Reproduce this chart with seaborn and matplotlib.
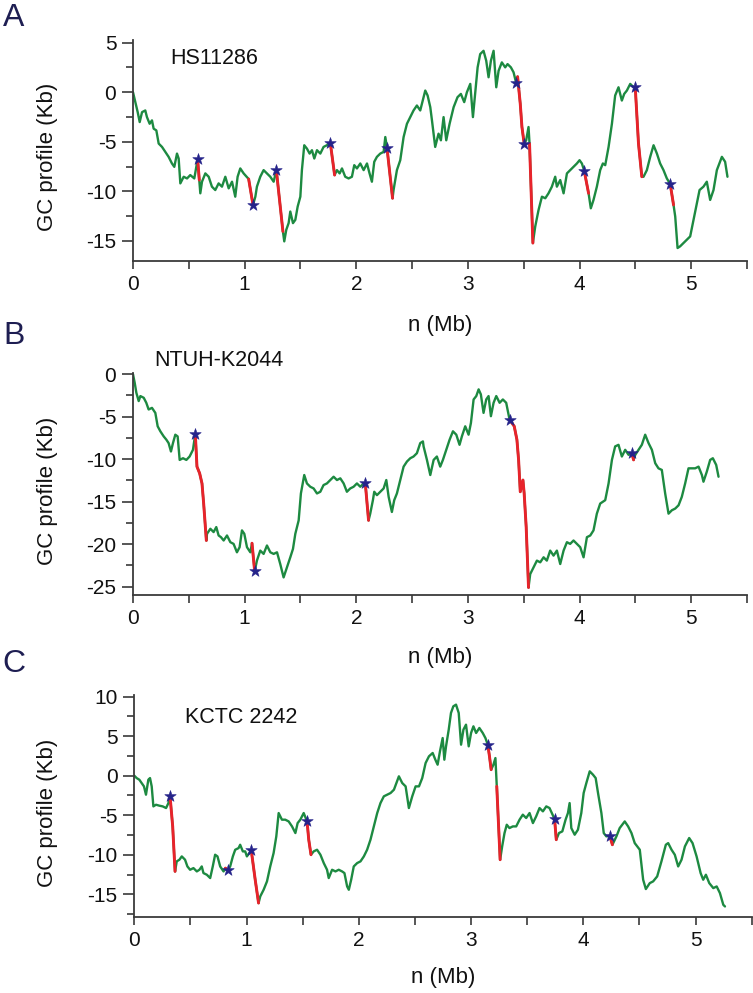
import numpy as np
import pandas as pd
import matplotlib
matplotlib.use("Agg")
import matplotlib.pyplot as plt
import seaborn as sns
from matplotlib.ticker import MultipleLocator

# ---------------- data ----------------
titles = ["HS11286", "NTUH-K2044", "KCTC 2242"]
letters = ["A", "B", "C"]
x_label = "n (Mb)"
y_label = "GC profile (Kb)"
x_ticks = [0, 1, 2, 3, 4, 5]
a_yticks = [-15, -10, -5, 0, 5]
b_yticks = [-25, -20, -15, -10, -5, 0]
c_yticks = [-15, -10, -5, 0, 5, 10]

a_x = [0.000,0.021,0.042,0.060,0.081,0.110,0.125,0.149,0.170,0.185,0.209,0.230,0.260,0.290,0.319,0.349,0.370,0.394,0.409,0.424,
       0.454,0.484,0.513,0.549,0.579,0.594,0.603,0.618,0.648,0.678,0.707,0.737,0.767,0.797,0.827,0.857,0.887,0.916,0.937,0.961,
       0.991,1.036,1.075,1.096,1.110,1.140,1.170,1.200,1.230,1.260,1.284,1.343,1.355,1.373,1.394,1.409,1.433,1.454,1.475,1.499,
       1.513,1.534,1.558,1.582,1.603,1.624,1.648,1.678,1.707,1.737,1.767,1.806,1.827,1.851,1.872,1.901,1.931,1.961,1.982,2.006,
       2.036,2.066,2.096,2.119,2.140,2.161,2.185,2.215,2.245,2.260,2.275,2.325,2.334,2.364,2.394,2.424,2.454,2.484,2.513,2.543,
       2.573,2.603,2.618,2.639,2.663,2.678,2.707,2.737,2.758,2.782,2.806,2.836,2.872,2.907,2.937,2.967,2.991,3.021,3.045,3.066,
       3.087,3.110,3.140,3.164,3.185,3.206,3.230,3.254,3.275,3.304,3.334,3.355,3.385,3.409,3.433,3.445,3.469,3.484,3.504,3.522,
       3.543,3.552,3.582,3.603,3.633,3.663,3.693,3.722,3.752,3.782,3.797,3.827,3.857,3.887,3.916,3.946,3.976,4.000,4.021,4.042,
       4.081,4.101,4.125,4.155,4.185,4.209,4.230,4.260,4.290,4.319,4.349,4.379,4.400,4.424,4.454,4.484,4.499,4.528,4.558,4.573,
       4.603,4.633,4.663,4.693,4.722,4.752,4.782,4.812,4.842,4.857,4.878,4.901,4.931,4.961,4.991,5.021,5.051,5.075,5.110,5.140,
       5.170,5.200,5.230,5.275,5.304,5.325]
a_y = [0.00,-1.00,-2.01,-3.01,-2.01,-1.84,-2.51,-3.18,-2.84,-3.68,-3.85,-5.18,-5.52,-6.02,-6.52,-7.19,-7.53,-6.19,-6.69,-9.20,
       -8.53,-8.70,-8.36,-8.70,-6.76,-8.86,-10.20,-9.03,-8.19,-8.53,-9.53,-9.87,-9.20,-9.53,-8.53,-9.70,-9.03,-10.54,-8.53,-7.69,
       -8.19,-8.76,-11.37,-10.54,-9.53,-8.53,-7.86,-8.19,-8.53,-9.03,-7.86,-14.05,-15.05,-13.88,-13.21,-12.04,-13.21,-12.88,-11.54,-10.54,
       -7.86,-5.35,-5.69,-6.19,-5.85,-6.69,-5.85,-6.19,-5.52,-5.35,-5.08,-8.36,-7.86,-8.19,-7.69,-8.53,-8.70,-8.53,-7.36,-7.69,
       -7.19,-7.86,-7.19,-8.19,-9.03,-7.02,-6.52,-6.19,-6.02,-4.52,-5.59,-10.70,-9.87,-7.86,-6.86,-4.52,-3.18,-2.51,-1.84,-1.34,
       -1.84,-0.50,0.17,-0.33,-1.51,-2.84,-5.52,-4.18,-4.85,-2.51,-4.85,-3.18,-1.51,-0.50,-0.17,-1.00,0.00,0.84,-2.51,0.00,
       2.51,3.85,4.18,3.18,1.51,3.18,4.18,0.50,2.17,3.01,2.51,2.84,2.51,2.01,0.90,1.57,-1.17,-3.51,-5.18,-4.85,
       -3.51,-5.18,-15.22,-13.55,-11.87,-10.54,-10.70,-10.20,-9.53,-8.53,-9.53,-8.86,-10.20,-8.19,-7.86,-7.53,-7.19,-6.86,-7.19,-7.93,
       -10.20,-11.71,-10.87,-9.53,-7.86,-7.19,-7.36,-5.52,-3.18,-0.33,0.50,-0.84,-0.17,0.17,0.84,0.50,0.50,-5.18,-8.53,-8.53,
       -7.86,-6.52,-5.35,-6.19,-7.19,-7.86,-8.70,-9.26,-11.37,-12.54,-15.72,-15.55,-15.22,-14.88,-14.55,-12.88,-11.20,-9.87,-9.53,-9.03,
       -10.87,-9.87,-7.86,-6.52,-7.02,-8.53]
a_red = [(0.579, 0.594), (1.036, 1.075), (1.284, 1.343), (1.767, 1.806), (2.275, 2.325),
         (3.445, 3.504), (3.552, 3.582), (4.042, 4.081), (4.499, 4.558), (4.812, 4.842)]
a_star_x = [0.579, 1.075, 1.284, 1.767, 2.275, 3.433, 3.504, 4.042, 4.499, 4.812]
a_star_y = [-6.76, -11.37, -7.86, -5.08, -5.59, 0.90, -5.18, -7.93, 0.50, -9.26]

b_x = [0.000,0.015,0.030,0.051,0.066,0.096,0.119,0.140,0.170,0.200,0.221,0.245,0.275,0.299,0.319,0.340,0.358,0.379,0.400,0.418,
       0.448,0.478,0.507,0.537,0.558,0.573,0.597,0.618,0.633,0.657,0.663,0.693,0.722,0.746,0.767,0.788,0.812,0.842,0.872,0.901,
       0.931,0.955,0.976,0.997,1.021,1.051,1.066,1.090,1.110,1.140,1.170,1.200,1.230,1.260,1.290,1.319,1.349,1.379,1.409,1.433,
       1.454,1.484,1.504,1.534,1.558,1.588,1.618,1.648,1.678,1.707,1.737,1.767,1.797,1.827,1.857,1.887,1.916,1.946,1.976,2.006,
       2.036,2.066,2.081,2.110,2.125,2.149,2.161,2.185,2.215,2.245,2.269,2.290,2.319,2.340,2.364,2.394,2.424,2.454,2.484,2.513,
       2.543,2.573,2.597,2.603,2.633,2.663,2.693,2.722,2.752,2.776,2.806,2.836,2.866,2.896,2.925,2.946,2.976,3.006,3.027,3.051,
       3.075,3.096,3.116,3.140,3.164,3.185,3.206,3.230,3.254,3.284,3.313,3.343,3.364,3.373,3.415,3.439,3.454,3.469,3.493,3.504,
       3.522,3.543,3.558,3.588,3.618,3.648,3.678,3.707,3.737,3.767,3.797,3.827,3.857,3.887,3.916,3.946,3.976,4.006,4.036,4.066,
       4.096,4.125,4.155,4.185,4.230,4.260,4.290,4.319,4.349,4.379,4.409,4.439,4.469,4.484,4.499,4.528,4.558,4.588,4.618,4.648,
       4.678,4.707,4.737,4.767,4.797,4.827,4.857,4.887,4.916,4.946,4.976,5.006,5.036,5.066,5.096,5.110,5.140,5.170,5.194,5.224,
       5.245]
b_y = [0.00,-0.99,-2.18,-3.16,-2.57,-2.77,-3.36,-4.15,-3.96,-4.55,-6.13,-6.72,-7.32,-7.71,-8.11,-9.10,-8.11,-7.12,-7.32,-10.09,
       -9.89,-10.09,-9.69,-8.90,-7.00,-10.88,-11.67,-12.86,-15.23,-19.58,-18.79,-18.20,-18.59,-18.00,-18.99,-19.19,-19.58,-18.99,-19.78,-19.98,
       -20.97,-20.37,-18.39,-18.79,-20.37,-20.97,-19.90,-23.22,-21.95,-20.77,-21.16,-20.17,-20.97,-21.16,-20.97,-22.35,-23.93,-22.75,-21.56,-20.57,
       -18.79,-17.21,-14.04,-11.87,-12.86,-13.25,-13.45,-14.04,-13.84,-13.05,-12.86,-12.46,-12.07,-12.46,-12.26,-12.86,-13.84,-13.45,-13.25,-12.86,
       -13.25,-12.86,-12.86,-17.21,-16.42,-14.83,-13.84,-14.24,-13.84,-13.45,-12.46,-14.44,-16.22,-14.83,-14.04,-12.46,-10.88,-10.28,-9.89,-9.69,
       -9.30,-8.11,-7.91,-8.50,-10.09,-11.87,-10.09,-9.69,-10.88,-10.09,-8.90,-7.71,-6.72,-7.12,-8.31,-7.32,-6.13,-7.12,-5.74,-2.97,
       -2.57,-1.78,-2.37,-4.55,-2.97,-2.57,-4.94,-3.36,-2.57,-3.36,-2.97,-3.36,-4.75,-5.34,-6.13,-7.71,-10.09,-13.84,-12.46,-14.04,
       -18.00,-25.12,-23.54,-22.75,-21.95,-22.15,-21.56,-21.95,-20.77,-21.36,-20.77,-22.35,-20.77,-19.78,-19.98,-19.58,-19.98,-20.37,-21.56,-19.19,
       -18.99,-18.39,-16.42,-15.23,-14.83,-12.86,-10.09,-8.50,-8.31,-9.69,-8.90,-9.49,-9.30,-10.09,-9.49,-8.90,-8.31,-7.12,-8.11,-8.90,
       -10.48,-11.08,-11.27,-14.04,-16.42,-16.02,-15.82,-15.43,-14.44,-12.86,-11.08,-11.08,-11.08,-10.88,-11.87,-12.66,-11.47,-10.09,-9.89,-10.68,
       -12.07]
b_red = [(0.558, 0.657), (1.066, 1.090), (2.081, 2.110), (3.373, 3.543), (4.469, 4.484)]
b_star_x = [0.558, 1.090, 2.081, 3.373, 4.469]
b_star_y = [-7.00, -23.22, -12.86, -5.34, -9.30]

c_x = [0.000,0.021,0.045,0.065,0.086,0.104,0.125,0.140,0.155,0.170,0.193,0.223,0.253,0.283,0.304,0.318,0.342,0.363,0.378,0.402,
       0.423,0.452,0.473,0.497,0.527,0.557,0.580,0.601,0.616,0.646,0.676,0.699,0.720,0.741,0.765,0.795,0.812,0.833,0.854,0.878,
       0.899,0.929,0.943,0.967,0.988,1.003,1.042,1.077,1.107,1.122,1.152,1.182,1.211,1.241,1.265,1.286,1.315,1.345,1.375,1.405,
       1.435,1.455,1.479,1.509,1.539,1.554,1.574,1.598,1.628,1.658,1.688,1.717,1.732,1.762,1.792,1.821,1.851,1.872,1.896,1.911,
       1.932,1.955,1.985,2.015,2.045,2.074,2.104,2.134,2.164,2.193,2.223,2.253,2.283,2.313,2.357,2.387,2.417,2.446,2.476,2.506,
       2.536,2.565,2.595,2.625,2.658,2.682,2.702,2.723,2.747,2.762,2.777,2.801,2.821,2.842,2.866,2.890,2.911,2.932,2.955,2.979,
       3.000,3.021,3.045,3.074,3.104,3.128,3.149,3.164,3.179,3.199,3.217,3.229,3.259,3.277,3.298,3.318,3.342,3.372,3.402,3.432,
       3.461,3.491,3.521,3.551,3.580,3.610,3.640,3.670,3.699,3.744,3.759,3.783,3.813,3.842,3.863,3.878,3.893,3.923,3.952,3.982,
       4.003,4.027,4.057,4.086,4.110,4.131,4.161,4.182,4.205,4.235,4.259,4.295,4.324,4.369,4.399,4.429,4.458,4.503,4.533,4.557,
       4.592,4.622,4.658,4.696,4.735,4.756,4.786,4.815,4.845,4.875,4.905,4.943,4.973,5.009,5.045,5.068,5.092,5.122,5.158,5.188,
       5.217,5.247,5.262]
c_y = [0.00,-0.30,-0.51,-0.93,-1.35,-2.40,-0.51,-0.30,-1.35,-3.88,-3.67,-3.79,-3.88,-4.09,-3.46,-2.53,-6.41,-12.10,-10.83,-10.62,
       -10.20,-10.62,-11.47,-11.89,-11.68,-12.10,-11.89,-11.47,-12.31,-12.52,-12.94,-11.47,-9.99,-10.20,-11.47,-12.10,-11.68,-11.97,-11.47,-10.20,
       -9.36,-9.15,-8.73,-9.57,-9.57,-10.20,-9.44,-13.15,-16.10,-15.26,-14.42,-13.36,-11.47,-9.78,-7.67,-4.72,-5.56,-5.56,-5.78,-6.41,
       -7.25,-5.99,-5.56,-4.72,-5.78,-8.09,-9.99,-9.57,-9.36,-9.99,-11.05,-11.89,-12.94,-11.89,-12.10,-11.89,-12.10,-12.31,-14.00,-14.42,
       -13.15,-11.47,-11.05,-10.83,-10.20,-9.36,-8.09,-6.41,-4.72,-3.46,-2.61,-2.40,-2.19,-1.77,-0.08,-0.93,-1.35,-4.09,-2.61,-1.35,
       -1.35,-0.30,1.60,2.45,2.87,2.02,1.39,3.08,4.76,2.02,3.71,5.82,7.93,8.77,8.98,7.93,3.92,5.82,6.45,3.71,
       5.40,6.24,5.40,6.03,5.40,4.76,3.92,2.45,0.76,1.39,2.23,-1.35,-10.62,-8.94,-7.25,-6.20,-6.62,-6.41,-6.41,-5.56,
       -4.93,-5.35,-4.72,-5.99,-5.14,-4.09,-4.51,-3.88,-4.09,-5.48,-8.09,-7.25,-7.04,-5.56,-4.72,-3.46,-6.62,-7.46,-6.83,-4.72,
       -2.19,-0.93,0.55,0.13,-0.30,-2.19,-4.72,-7.25,-7.67,-7.59,-8.73,-7.67,-6.62,-5.78,-6.41,-7.25,-8.52,-9.36,-13.15,-14.33,
       -13.58,-13.36,-12.73,-10.83,-8.73,-8.52,-9.36,-9.99,-11.47,-10.62,-8.94,-7.88,-8.52,-10.20,-12.31,-13.15,-12.52,-13.58,-14.21,-14.00,
       -14.84,-16.32,-16.53]
c_red = [(0.318, 0.363), (0.812, 0.833), (1.042, 1.107), (1.539, 1.574),
         (3.149, 3.179), (3.229, 3.259), (3.744, 3.759), (4.235, 4.259)]
c_star_x = [0.318, 0.833, 1.042, 1.539, 3.149, 3.744, 4.235]
c_star_y = [-2.53, -11.97, -9.44, -5.78, 3.92, -5.48, -7.59]

# ---------------- style / layout ----------------
GREEN = "#1d8a41"
RED = "#e8232b"
NAVY = "#25238a"
LETTER = "#1e1e52"
AXC = "#3a3a3a"
W, H = 753, 993

sns.set_style("ticks")
plt.rcParams["font.family"] = ["Liberation Sans", "DejaVu Sans"]
plt.rcParams["axes.unicode_minus"] = False

layout = [
    dict(box=(133, 39.7, 747, 260.7), ylim=(-17.0, 5.3), yticks=a_yticks, letter=(14, 18),
         title=(0.060, 0.917), xlab=-0.291),
    dict(box=(133, 373.4, 747, 595.0), ylim=(-26.0, 0.1), yticks=b_yticks, letter=(14, 336),
         title=(0.034, 1.060), xlab=-0.284),
    dict(box=(134.3, 695.0, 751.7, 917.3), ylim=(-17.9, 10.2), yticks=c_yticks, letter=(14, 664),
         title=(0.082, 0.901), xlab=-0.273),
]
series = [(a_x, a_y, a_red, a_star_x, a_star_y),
          (b_x, b_y, b_red, b_star_x, b_star_y),
          (c_x, c_y, c_red, c_star_x, c_star_y)]

fig = plt.figure(figsize=(W / 100, H / 100), dpi=100)

for i, (lay, (xs, ys, reds, sx, sy)) in enumerate(zip(layout, series)):
    l, t, r, b = lay["box"]
    ax = fig.add_axes([l / W, 1 - b / H, (r - l) / W, (b - t) / H])
    df = pd.DataFrame({"n": xs, "gc": ys})
    sns.lineplot(data=df, x="n", y="gc", ax=ax, color=GREEN, lw=1.7,
                 sort=False, estimator=None, zorder=2)
    for s, e in reds:
        seg = df[(df["n"] >= s - 1e-9) & (df["n"] <= e + 1e-9)]
        sns.lineplot(data=seg, x="n", y="gc", ax=ax, color=RED, lw=2.1,
                     sort=False, estimator=None, zorder=3)
    sdf = pd.DataFrame({"n": sx, "gc": sy})
    sns.scatterplot(data=sdf, x="n", y="gc", ax=ax, marker="*", s=75,
                    color=NAVY, edgecolor=NAVY, linewidth=0.4, zorder=5)

    ax.set_xlim(0, 5.5)
    ax.set_ylim(*lay["ylim"])
    ax.set_xticks(x_ticks)
    ax.set_yticks(lay["yticks"])
    ax.xaxis.set_minor_locator(MultipleLocator(0.5))
    ax.yaxis.set_minor_locator(MultipleLocator(2.5))
    sns.despine(ax=ax)
    for sp in ("left", "bottom"):
        ax.spines[sp].set_color(AXC)
        ax.spines[sp].set_linewidth(1.3)
    ax.tick_params(axis="x", which="both", direction="out", length=6, width=1.2,
                   color=AXC, labelsize=15, pad=4, labelcolor="#111111")
    ax.tick_params(axis="y", which="major", direction="out", length=8, width=1.2,
                   color=AXC, labelsize=15, pad=4, labelcolor="#111111")
    ax.tick_params(axis="y", which="minor", direction="out", length=5, width=1.2, color=AXC)

    ax.set_xlabel(x_label, fontsize=16, color="#111111")
    ax.xaxis.label.set_va("center")
    ax.xaxis.set_label_coords(0.5, lay["xlab"])
    ax.set_ylabel(y_label, fontsize=16, color="#111111")
    ax.yaxis.label.set_va("center")
    ax.yaxis.set_label_coords((48 - l) / (r - l), 0.47)

    ax.text(lay["title"][0], lay["title"][1], titles[i], transform=ax.transAxes,
            ha="left", va="center", fontsize=15.5, color="#111111")
    fig.text(lay["letter"][0] / W, 1 - lay["letter"][1] / H, letters[i],
             fontsize=23, color=LETTER, ha="center", va="center")

fig.savefig("out.png", dpi=100)
